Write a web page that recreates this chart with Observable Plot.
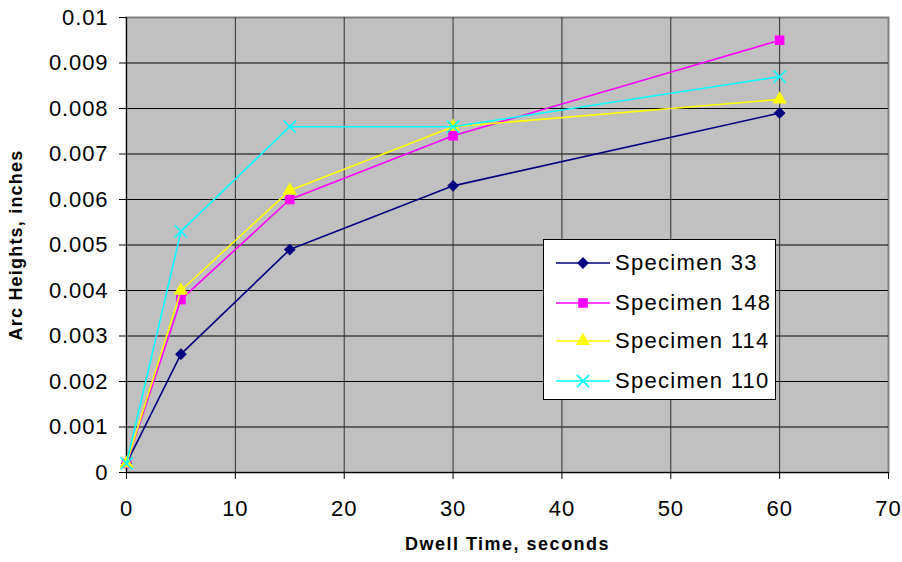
<!DOCTYPE html>
<html>
<head>
<meta charset="utf-8">
<script src="https://cdn.jsdelivr.net/npm/d3@7"></script>
<script src="https://cdn.jsdelivr.net/npm/@observablehq/plot@0.6"></script>
<style>
  html, body { margin: 0; padding: 0; background: #fff; }
  #wrap { position: relative; width: 902px; height: 562px; font-family: "Liberation Sans", Arial, sans-serif; }
  #wrap g[aria-label="x-axis tick label"], #wrap g[aria-label="y-axis tick label"] { font-size: 22px; letter-spacing: 0.9px; }
  #legend { position: absolute; left: 543px; top: 239px; width: 231px; height: 159px; background: #fff; border: 1px solid #000; }
  .item { position: absolute; left: 0; height: 30px; display: flex; align-items: center; }
  .item span { font-size: 22px; letter-spacing: 1.3px; color: #000; }
</style>
</head>
<body>
<div id="wrap"></div>
<script>
const times = [0, 5, 15, 30, 60];
const seriesNames = ["Specimen 33", "Specimen 148", "Specimen 114", "Specimen 110"];
const spec33  = [0.0002, 0.0026, 0.0049, 0.0063, 0.0079];
const spec148 = [0.0002, 0.0038, 0.0060, 0.0074, 0.0095];
const spec114 = [0.0002, 0.0040, 0.0062, 0.0076, 0.0082];
const spec110 = [0.0002, 0.0053, 0.0076, 0.0076, 0.0087];
const seriesValues = [spec33, spec148, spec114, spec110];
const colors = ["#000080", "#FF00FF", "#FFFF00", "#00FFFF"];
const symbols = ["diamond2", "square", "triangle", "times"];
const radii = [5.3, 5.4, 5.3, 5.6];
const xTicks = [0, 10, 20, 30, 40, 50, 60, 70];
const yTicks = [0, 0.001, 0.002, 0.003, 0.004, 0.005, 0.006, 0.007, 0.008, 0.009, 0.01];

const marks = [
  Plot.frame({fill: "#C0C0C0", stroke: "#808080", strokeWidth: 2}),
  Plot.ruleY(yTicks.slice(1, -1), {stroke: "#000", strokeWidth: 1}),
  Plot.ruleX(xTicks.slice(1, -1), {stroke: "#303030", strokeWidth: 1}),
  Plot.ruleX([0], {stroke: "#000"}),
  Plot.ruleY([0], {stroke: "#000"})
];
seriesValues.forEach((vals, i) => {
  const data = times.map((t, j) => ({t, v: vals[j]}));
  marks.push(Plot.line(data, {x: "t", y: "v", stroke: colors[i], strokeWidth: 1.6}));
  const isStroke = symbols[i] === "times";
  marks.push(Plot.dot(data, {
    x: "t", y: "v", symbol: () => symbols[i], r: radii[i],
    fill: isStroke ? "none" : colors[i],
    stroke: isStroke ? colors[i] : "none",
    strokeWidth: isStroke ? 1.6 : 0
  }));
});
marks.push(Plot.text(["Dwell Time, seconds"], {frameAnchor: "bottom", dy: 77, fontSize: 18, fontWeight: "bold", fill: "#000", textAnchor: "middle"}));
marks.push(Plot.text(["Arc Heights, inches"], {frameAnchor: "left", dx: -110, rotate: -90, textAnchor: "middle", fontSize: 18, fontWeight: "bold", fill: "#000"}));

const chart = Plot.plot({
  width: 902,
  height: 562,
  marginLeft: 126,
  marginRight: 14,
  marginTop: 17,
  marginBottom: 90,
  style: {fontFamily: "Liberation Sans, Arial, sans-serif", background: "#fff", color: "#000"},
  x: {domain: [0, 70], label: null},
  y: {domain: [0, 0.01], label: null},
  marks: [
    ...marks,
    Plot.axisX({ticks: xTicks, tickSize: 7, tickPadding: 21, label: null, tickFormat: d => String(d)}),
    Plot.axisY({ticks: yTicks, tickSize: 7, tickPadding: 11, label: null, tickFormat: d => String(+d.toFixed(3))})
  ]
});
const wrap = document.getElementById("wrap");
wrap.appendChild(chart);
chart.querySelectorAll("text").forEach(t => {
  if (t.textContent === "Dwell Time, seconds") t.setAttribute("letter-spacing", "1.5");
  if (t.textContent === "Arc Heights, inches") t.setAttribute("letter-spacing", "1.2");
});

// Legend
const legend = document.createElement("div");
legend.id = "legend";
const ys = [8, 48, 86, 126];
const symMap = {diamond2: d3.symbolDiamond2, square: d3.symbolSquare, triangle: d3.symbolTriangle, times: d3.symbolTimes};
seriesNames.forEach((name, i) => {
  const item = document.createElement("div");
  item.className = "item";
  item.style.top = ys[i] + "px";
  const svg = d3.create("svg").attr("width", 71).attr("height", 30);
  svg.append("line").attr("x1", 12).attr("x2", 66).attr("y1", 15).attr("y2", 15)
    .attr("stroke", colors[i]).attr("stroke-width", 1.6);
  const sym = d3.symbol(symMap[symbols[i]], Math.PI * radii[i] * radii[i]);
  const isStroke = symbols[i] === "times";
  svg.append("path").attr("d", sym()).attr("transform", "translate(39,15)")
    .attr("fill", isStroke ? "none" : colors[i])
    .attr("stroke", isStroke ? colors[i] : "none")
    .attr("stroke-width", 1.6);
  item.appendChild(svg.node());
  const span = document.createElement("span");
  span.textContent = name;
  item.appendChild(span);
  legend.appendChild(item);
});
wrap.appendChild(legend);
</script>
</body>
</html>
